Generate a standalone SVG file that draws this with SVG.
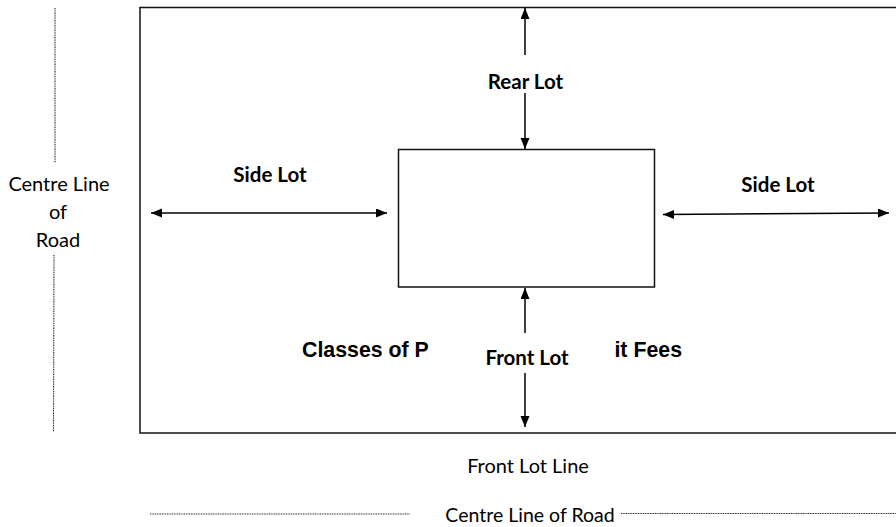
<svg xmlns="http://www.w3.org/2000/svg" width="896" height="527" viewBox="0 0 896 527">
<style>
.lbl{font-family:Lato,"Open Sans","Liberation Sans",sans-serif;font-size:20px;fill:#000}
.b{font-weight:bold;font-size:20.5px}
.ar{font-family:"Liberation Sans",Arial,sans-serif;font-size:21.33px;font-weight:bold;fill:#000}
.dot{stroke:#222;stroke-width:1.1;stroke-dasharray:1 0.7;fill:none}
.arrow{stroke:#000;stroke-width:1.5;fill:none;marker-end:url(#ah)}
.dbl{stroke:#000;stroke-width:1.5;fill:none;marker-start:url(#ah);marker-end:url(#ah)}
</style>
<defs>
<marker id="ah" markerUnits="userSpaceOnUse" markerWidth="12" markerHeight="10" refX="11" refY="4.5" orient="auto-start-reverse">
<path d="M0,0 L11,4.5 L0,9 z" fill="#000"/>
</marker>
</defs>
<rect width="896" height="527" fill="#fff"/>
<g id="lot">
<rect x="140" y="7.5" width="770" height="425.5" fill="none" stroke="#111" stroke-width="1.5"/>
</g>
<g id="building">
<rect x="398.5" y="149.5" width="256" height="137.5" fill="none" stroke="#111" stroke-width="1.5"/>
</g>
<g id="title">
<text class="ar" x="302" y="357">Classes of P</text>
<text class="ar" x="682" y="357" text-anchor="end">it Fees</text>
</g>
<g id="connectors">
<line class="arrow" x1="525" y1="55" x2="525" y2="8"/>
<line class="arrow" x1="525" y1="93" x2="525" y2="149"/>
<line class="arrow" x1="525" y1="333" x2="525" y2="288"/>
<line class="arrow" x1="525" y1="373" x2="525" y2="427"/>
<line class="dbl" x1="151" y1="213" x2="387" y2="213"/>
<line class="dbl" x1="663" y1="214.5" x2="889" y2="213"/>
<line class="dot" x1="55" y1="8" x2="55" y2="163"/>
<line class="dot" x1="54" y1="255" x2="53.5" y2="432"/>
<line class="dot" x1="150" y1="514" x2="410" y2="514"/>
<line class="dot" x1="621" y1="513.5" x2="896" y2="513.5"/>
</g>
<g id="rear-lot"><text class="lbl b" x="525.5" y="89" text-anchor="middle">Rear Lot</text></g>
<g id="side-lot-left"><text class="lbl b" x="270" y="181.5" text-anchor="middle">Side Lot</text></g>
<g id="side-lot-right"><text class="lbl b" x="778" y="191.5" text-anchor="middle">Side Lot</text></g>
<g id="front-lot"><text class="lbl b" x="527" y="365" text-anchor="middle">Front Lot</text></g>
<g id="centre-left">
<text class="lbl" x="59" y="191" text-anchor="middle">Centre Line</text>
<text class="lbl" x="58" y="219" text-anchor="middle">of</text>
<text class="lbl" x="58" y="247" text-anchor="middle">Road</text>
</g>
<g id="front-lot-line"><text class="lbl" x="528" y="473" text-anchor="middle">Front Lot Line</text></g>
<g id="centre-bottom"><text class="lbl" x="530" y="522" text-anchor="middle" style="font-size:19.5px">Centre Line of Road</text></g>
</svg>
